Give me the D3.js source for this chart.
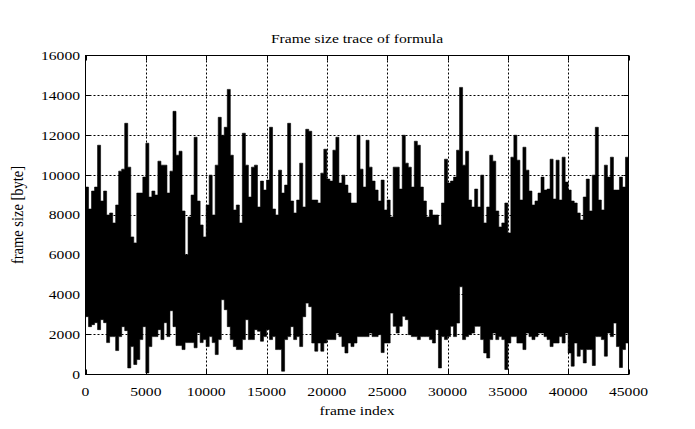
<!DOCTYPE html>
<html><head><meta charset="utf-8">
<script src="https://cdn.jsdelivr.net/npm/d3@7"></script>
<style>body{margin:0;background:#fff}svg{display:block}</style>
</head><body>
<svg id="chart" width="695" height="429"></svg>
<script>
const chartTitle = "Frame size trace of formula";
const xLabel = "frame index";
const yLabel = "frame size [byte]";
const xTickValues = [0, 5000, 10000, 15000, 20000, 25000, 30000, 35000, 40000, 45000];
const yTickValues = [0, 2000, 4000, 6000, 8000, 10000, 12000, 14000, 16000];
const binSize = 250; // frames per envelope bin (max / min read per bin)
const peakValues = [
 9400, 8300, 9200, 9400,11500, 8700, 9200, 8000, 8100, 7600,
 8500,10200,10300,12600,10400, 6900, 6600, 9100, 9100, 9900,
11600, 8900, 9200, 9000,10700,10500,10500, 9100,10200,13200,
11000,11200, 8200, 6000, 7900, 9000,11900, 8700, 7500, 6900,
 8500,10000, 8000,10500,12900,12000,12400,14300,11000, 8250,
 8500, 7600,12100,10500, 8900,10400,10500, 8400, 9700, 9250,
 9750,12400, 8300, 8000,10250, 9100, 9500,12600, 8700, 8100,
 8750,10600, 8400,12300,12200, 8750, 8750, 8600,10100,11300,
 9800, 9700,11250,11900, 9600,10000, 9500, 9100, 8600, 8600,
12000,10300, 9400,11750,10400, 9700, 9250, 8700, 9750, 8250,
 8750, 7900,10400,10400, 9300,12000,10600,10400, 9400,11700,
11500, 9400, 8700, 7900, 8250, 8000, 8000, 7500, 8600,10800,
 9600, 9700, 9900,11250,14400,10500,11200, 8750, 8400, 9300,
 8400,10000, 7600, 8400,11000,10700, 8200, 7400, 7600, 8600,
 7100,10900,12000,10750, 8750,11400,10250, 9200, 8500, 8700,
 9100, 9900, 9250, 9300,10800, 8800,10750, 8750,10900, 9650,
 9250, 8700, 8600, 8100, 7750, 8900, 9800, 8200,10000,12400,
 8750, 8250,10500, 9900,10900, 9250, 9250, 9900, 9400,10900
];
const troughValues = [
 2900, 2400, 2500, 2600, 2250, 2750, 2600, 1600, 1900, 1900,
 1200, 1900, 2400, 2200,  330, 1400,  500,  750, 1750, 2400,
   80, 1400, 1900, 1900, 2250, 1750, 2600, 1900, 3200, 2400,
 1450, 1450, 1250, 1600, 1600, 1600, 1340, 2100, 1600, 1750,
 1400, 1900, 1600, 1000, 1750, 3750, 3250, 2400, 1750, 1400,
 1250, 1250, 1750, 2750, 1750, 1750, 2250, 2170, 1670, 1900,
 2250, 1750, 1900, 1250, 1250,  165, 1750, 1900, 2400, 1750,
 1900, 1400, 2900, 3580, 3400, 1580, 1170, 1580, 1170, 1580,
 1750, 1750, 1750, 2080, 1900, 1400, 1080, 1580, 1400, 1580,
 1900, 1900, 1900, 1900, 2080, 1900, 1900, 2000, 1100, 1580,
 1580, 3080, 2420, 2080, 2420, 2920, 2750, 2000, 1900, 1900,
 1750, 1900, 1900, 1900, 1750, 1580, 2250,  330, 1900, 1750,
 1900, 2420, 1900, 2580, 4400, 1750, 1900, 2000, 2080, 2420,
 2420, 1750, 1080,  830, 1750, 2080, 1750, 1900, 1750,  250,
 1580, 1900, 1900, 1580, 1580, 1250, 2080, 1900, 1750, 1900,
 2080, 2080, 1900, 1750, 1400, 1580, 1580, 1900, 1580, 2080,
 1080,  420, 1580,  920, 1250,  580, 1250, 1250,  450, 1900,
 1900, 1750,  920, 2080, 1900, 2580, 1400,  350, 1250, 1580
];

const svg = d3.select("#chart");
const FONT = "'Liberation Serif','Times New Roman','DejaVu Serif',serif";
const SX = 1.2; // glyphs are wider than tall in the reference

const x = d3.scaleLinear().domain([0, 45000]).range([85.5, 628.5]);
const y = d3.scaleLinear().domain([0, 16000]).range([374.5, 55.5]);

// trace envelope built from the arrays
const trace = peakValues.map((v, i) => ({frame: i * binSize, hi: v, lo: troughValues[i]}));
trace.push({frame: peakValues.length * binSize, hi: peakValues[peakValues.length - 1], lo: troughValues[troughValues.length - 1]});

// grid
const g = svg.append("g");
g.selectAll("line.gx").data(xTickValues.slice(1, -1)).join("line")
  .attr("x1", d => Math.round(x(d)) + 0.5).attr("x2", d => Math.round(x(d)) + 0.5)
  .attr("y1", y(0)).attr("y2", y(16000))
  .attr("stroke", "#000").attr("stroke-width", 1).attr("stroke-dasharray", "2,2");
g.selectAll("line.gy").data(yTickValues.slice(1, -1)).join("line")
  .attr("y1", d => Math.round(y(d) - 0.5) + 0.5).attr("y2", d => Math.round(y(d) - 0.5) + 0.5)
  .attr("x1", x(0)).attr("x2", x(45000))
  .attr("stroke", "#000").attr("stroke-width", 1).attr("stroke-dasharray", "2,2");

// trace
const area = d3.area()
  .x(d => x(d.frame))
  .y0(d => y(d.lo))
  .y1(d => y(d.hi))
  .curve(d3.curveStepAfter);
svg.append("path").datum(trace).attr("d", area)
  .attr("fill", "#000").attr("stroke", "#000").attr("stroke-width", 0.6);

// border
svg.append("rect").attr("x", x(0)).attr("y", y(16000))
  .attr("width", x(45000) - x(0)).attr("height", y(0) - y(16000))
  .attr("fill", "none").attr("stroke", "#000").attr("stroke-width", 1);

// tick marks (inward, mirrored)
const tl = 5;
const tk = svg.append("g").attr("stroke", "#000").attr("stroke-width", 1);
xTickValues.forEach(d => {
  const px = Math.round(x(d)) + 0.5;
  tk.append("line").attr("x1", px).attr("x2", px).attr("y1", y(0)).attr("y2", y(0) - tl);
  tk.append("line").attr("x1", px).attr("x2", px).attr("y1", y(16000)).attr("y2", y(16000) + tl);
});
yTickValues.forEach(d => {
  const py = Math.round(y(d) - 0.5) + 0.5;
  tk.append("line").attr("y1", py).attr("y2", py).attr("x1", x(0)).attr("x2", x(0) + tl);
  tk.append("line").attr("y1", py).attr("y2", py).attr("x1", x(45000)).attr("x2", x(45000) - tl);
});

function label(txt, tx, ty, anchor) {
  return svg.append("text")
    .attr("transform", `translate(${tx},${ty}) scale(${SX},1)`)
    .attr("text-anchor", anchor)
    .attr("font-family", FONT).attr("font-size", 13).attr("fill", "#000")
    .text(txt);
}

// tick labels
xTickValues.forEach(d => label(String(d), x(d), 395.5, "middle"));
yTickValues.forEach(d => label(String(d), 80, y(d) + 4.4, "end"));

// titles
label(chartTitle, (x(0) + x(45000)) / 2, 42.5, "middle");
label(xLabel, (x(0) + x(45000)) / 2, 414.5, "middle");
svg.append("text")
  .attr("transform", `translate(22.5,${(y(0) + y(16000)) / 2}) rotate(-90) scale(1,1.1)`)
  .attr("text-anchor", "middle")
  .attr("font-family", FONT).attr("font-size", 14.5).attr("fill", "#000")
  .text(yLabel);
</script>
</body></html>
